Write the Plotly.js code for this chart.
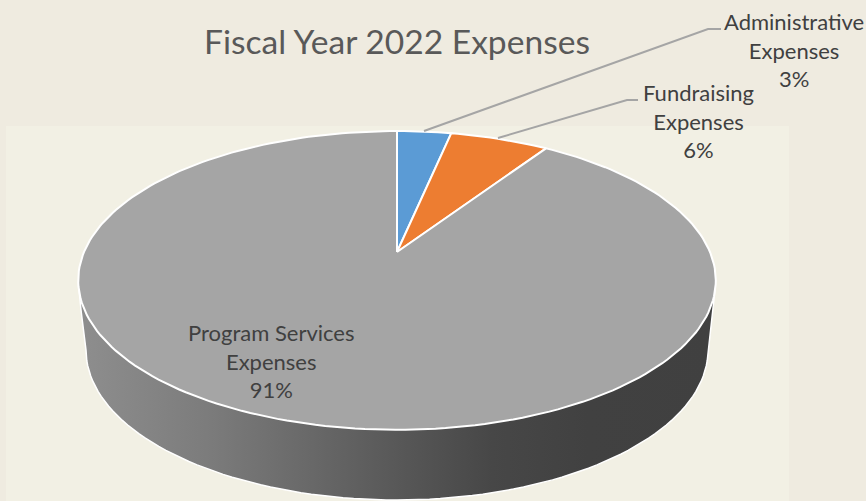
<!DOCTYPE html>
<html><head><meta charset="utf-8">
<script src="https://cdn.plot.ly/plotly-3.0.1.min.js"></script>
<style>html,body{margin:0;padding:0;background:#EFEBE0;overflow:hidden}</style>
</head><body><div id="chart" style="width:866px;height:501px"></div>
<script>
const categories = ["Administrative Expenses", "Fundraising Expenses", "Program Services Expenses"];
const shares = [3.3, 6.0, 90.7];
const percentLabels = ["3%", "6%", "91%"];
const sliceColors = ["#5B9BD5", "#ED7D31", "#A5A5A5"];

// tilted-disc projection of a pie drawn in page-pixel axes
const cx = 397, cy = 252, k = 0.19, a = 144, b = 313;
function project(deg) {
  const t = deg * Math.PI / 180, u = Math.sin(t), v = Math.cos(t), w = 1 + k * v;
  return [cx + b * u / w, cy - a * v / w];
}
function wedge(from, to) {
  const xs = [cx], ys = [cy];
  const n = Math.max(2, Math.ceil((to - from) / 1.5));
  for (let i = 0; i <= n; i++) {
    const p = project(from + (to - from) * i / n);
    xs.push(p[0]); ys.push(p[1]);
  }
  xs.push(cx); ys.push(cy);
  return {x: xs, y: ys};
}

// side wall
const wx = [], wy = [];
wx.push(79); wy.push(290);
wx.push(81); wy.push(310);
for (let d = -90; d <= 90; d += 2) {
  const t = d * Math.PI / 180;
  wx.push(397 + 311 * Math.sin(t)); wy.push(350 + 150 * Math.cos(t));
}
wx.push(713); wy.push(310);
wx.push(715); wy.push(290);

const traces = [{
  type: "scatter", mode: "lines", x: wx, y: wy, fill: "toself",
  line: {color: "#FFFFFF", width: 1.5}, hoverinfo: "skip",
  fillgradient: {type: "horizontal", colorscale: [
    [0, "#8E8E8E"], [0.2, "#7C7C7C"], [0.35, "#6A6A6A"], [0.5, "#585858"],
    [0.65, "#474747"], [0.8, "#414141"], [1, "#404040"]]}
}];
let start = 0;
shares.forEach((s, i) => {
  const span = s / 100 * 360;
  const g = wedge(start, start + span);
  traces.push({
    type: "scatter", mode: "lines", name: categories[i], x: g.x, y: g.y,
    fill: "toself", fillcolor: sliceColors[i],
    line: {color: "#FFFFFF", width: 2}, hoverinfo: "name"
  });
  start += span;
});
const leader = {color: "#A5A5A5", width: 2};
traces.push({type: "scatter", mode: "lines", x: [424, 708, 721], y: [131, 29, 29], line: leader, hoverinfo: "skip"});
traces.push({type: "scatter", mode: "lines", x: [498, 627, 638], y: [138, 100, 100], line: leader, hoverinfo: "skip"});

function lbl(i, x, y) {
  const parts = categories[i].split(" ");
  const head = parts.slice(0, -1).join(" ");
  return {
    x, y, xref: "x", yref: "y", showarrow: false, align: "center",
    xanchor: "center", yanchor: "middle",
    text: head + "<br>" + parts[parts.length - 1] + "<br>" + percentLabels[i],
    font: {family: "Lato, Carlito, sans-serif", size: 22, color: "#404040"}
  };
}
const layout = {
  width: 866, height: 501, margin: {l: 0, r: 0, t: 0, b: 0}, showlegend: false,
  paper_bgcolor: "#EFEBE0", plot_bgcolor: "#EFEBE0",
  xaxis: {range: [0, 866], visible: false, fixedrange: true},
  yaxis: {range: [501, 0], visible: false, fixedrange: true},
  shapes: [{type: "rect", layer: "below", xref: "x", yref: "y", x0: 6, x1: 789, y0: 126, y1: 501,
            fillcolor: "#F2F0E4", line: {width: 0}}],
  annotations: [
    lbl(0, 794, 50), lbl(1, 698, 121), lbl(2, 271, 361),
    {x: 397, y: 41, xref: "x", yref: "y", showarrow: false, xanchor: "center", yanchor: "middle",
     text: "Fiscal Year 2022 Expenses",
     font: {family: "Lato, Carlito, sans-serif", size: 33.6, color: "#595959"}}
  ]
};
Plotly.newPlot("chart", traces, layout, {displayModeBar: false, staticPlot: false});
</script></body></html>
